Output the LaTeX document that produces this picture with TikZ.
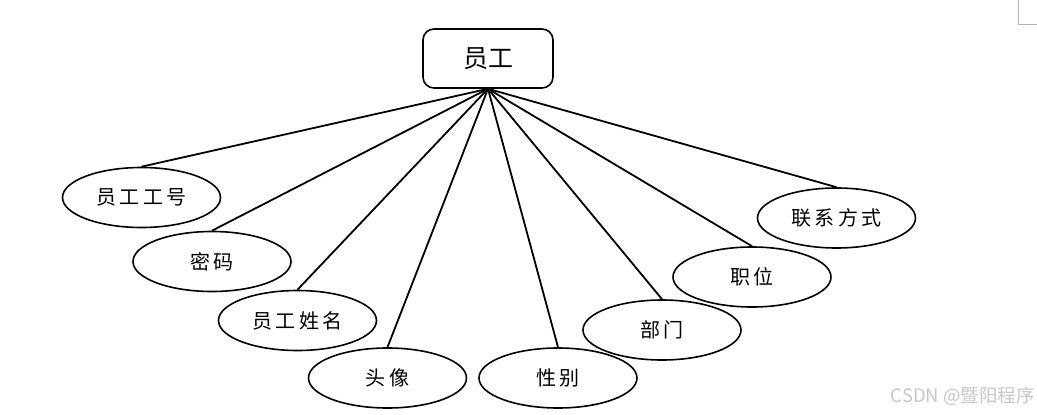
\documentclass[tikz,border=0pt]{standalone}
\usepackage{fontspec}
\newfontfamily\cjk{Noto Sans CJK SC}
\usetikzlibrary{shapes.geometric}
\begin{document}
\begin{tikzpicture}[x=1pt,y=-1pt,
  entity/.style={draw,line width=1.6pt,rounded corners=11pt,minimum width=130pt,minimum height=59pt,inner sep=0pt,font=\cjk\fontsize{25}{30}\selectfont},
  attr/.style={draw,ellipse,line width=1.6pt,minimum width=158pt,minimum height=60pt,inner sep=0pt,font=\cjk\fontsize{20}{24}\selectfont},
  link/.style={line width=1.8pt}]
\useasboundingbox (0,0) rectangle (1037,415);
\node[entity] (e) at (488,58.5) {员工};
\node[attr] (a1) at (141.5,197.5) {员\,工\,工\,号};
\node[attr] (a2) at (212,261.5) {密\,码};
\node[attr] (a3) at (297.5,320.5) {员\,工\,姓\,名};
\node[attr] (a4) at (387.5,378) {头\,像};
\node[attr] (a5) at (558,378) {性\,别};
\node[attr] (a6) at (662,330) {部\,门};
\node[attr] (a7) at (752,277) {职\,位};
\node[attr] (a8) at (836.5,218) {联\,系\,方\,式};
\foreach \n in {a1,a2,a3,a4,a5,a6,a7,a8}
  \draw[link] (e.south) -- (\n.north);
\node[anchor=east,text=black!22,font=\cjk\fontsize{18.5}{22}\selectfont,inner sep=0pt] (wm) at (1035,396) {CSDN @暨阳程序};
\coordinate (c1) at (1018,0);
\coordinate (c2) at (1018,24);
\coordinate (c3) at (1037,24);
\draw[black!30,line width=0.8pt] (c1) -- (c2) -- (c3);
\end{tikzpicture}
\end{document}
